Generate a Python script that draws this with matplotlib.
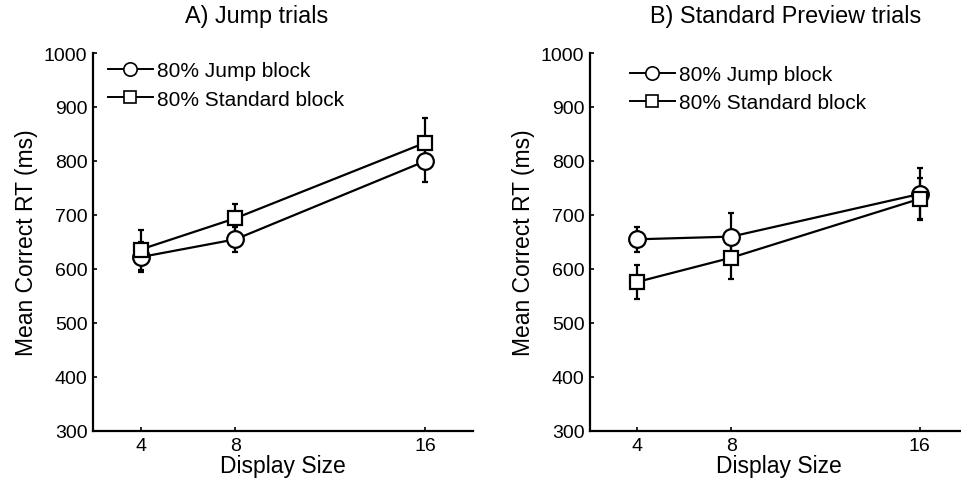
import matplotlib.pyplot as plt

plt.rcParams['font.family'] = ['Liberation Sans', 'DejaVu Sans']

display_size = [4, 8, 16]

# A) Jump trials
jump_a = [622, 655, 800]
jump_a_err = [28, 23, 38]
std_a = [636, 694, 834]
std_a_err = [37, 27, 46]

# B) Standard Preview trials
jump_b = [655, 660, 739]
jump_b_err = [23, 43, 48]
std_b = [576, 621, 730]
std_b_err = [31, 40, 38]

W, H = 962, 489
fig = plt.figure(figsize=(W / 100, H / 100), dpi=100)


def make_axes(x0, x1):
    # pixel box -> figure fraction
    return fig.add_axes([x0 / W, 1 - 432 / H, (x1 - x0) / W, (432 - 54) / H])


def draw(ax, jump, jump_err, std, std_err, leg_x, leg_y):
    ax.errorbar(display_size, jump, yerr=jump_err, color='black', lw=1.6,
                marker='o', ms=12, mfc='white', mec='black', mew=1.6,
                capsize=2.5, capthick=1.6, elinewidth=1.6, label='80% Jump block')
    ax.errorbar(display_size, std, yerr=std_err, color='black', lw=1.6,
                marker='s', ms=10, mfc='white', mec='black', mew=1.6,
                capsize=2.5, capthick=1.6, elinewidth=1.6, label='80% Standard block')
    ax.set_xlim(2, 18)
    ax.set_ylim(300, 1000)
    ax.set_xticks(display_size)
    ax.set_yticks(range(300, 1001, 100))
    ax.tick_params(direction='in', length=3, width=1.2, labelsize=14, pad=4)
    for s in ['top', 'right']:
        ax.spines[s].set_visible(False)
    for s in ['left', 'bottom']:
        ax.spines[s].set_linewidth(1.6)
    ax.set_xlabel('Display Size', fontsize=16.5, labelpad=0)
    ax.set_ylabel('Mean Correct RT (ms)', fontsize=16.5, labelpad=4)
    handles, labels = ax.get_legend_handles_labels()
    handles = [h[0] for h in handles]
    leg = ax.legend(handles, labels, loc='upper left', frameon=False, fontsize=15,
                    bbox_to_anchor=(leg_x, leg_y), handlelength=2.15, handletextpad=0.2,
                    labelspacing=0.45, borderaxespad=0, markerscale=0.8)
    for line in leg.get_lines():
        line.set_linewidth(1.4)
        line.set_markeredgewidth(1.2)


ax1 = make_axes(93, 473)
draw(ax1, jump_a, jump_a_err, std_a, std_a_err, 0.017, 1.0)
ax2 = make_axes(590, 967)
draw(ax2, jump_b, jump_b_err, std_b, std_b_err, 0.084, 0.99)

fig.text(257 / W, 1 - 16 / H, 'A) Jump trials', ha='center', va='center', fontsize=16.8)
fig.text(786 / W, 1 - 16 / H, 'B) Standard Preview trials', ha='center', va='center', fontsize=16.8)

fig.savefig('out.png', dpi=100)
